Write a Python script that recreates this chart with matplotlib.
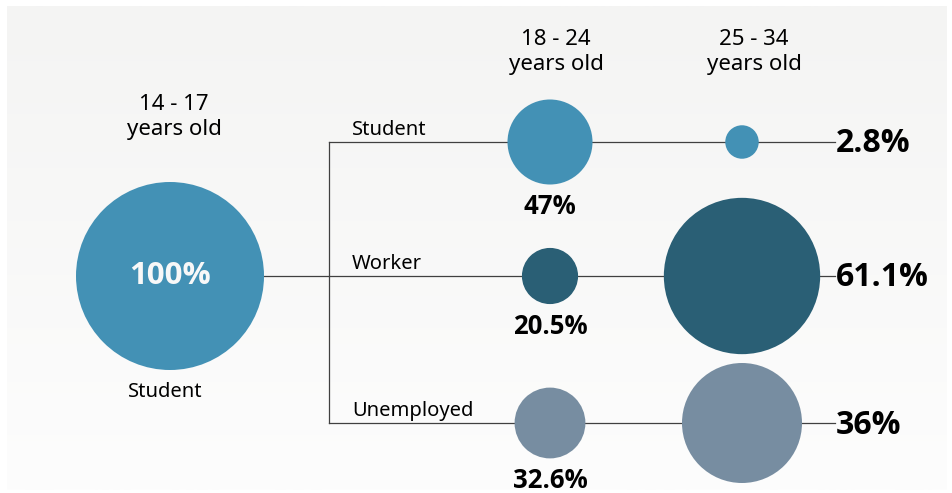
import numpy as np
import matplotlib.pyplot as plt
from matplotlib.patches import Circle
from matplotlib.colors import LinearSegmentedColormap

plt.rcParams['font.family'] = ['Noto Sans', 'DejaVu Sans']
BOLD = ['Open Sans', 'DejaVu Sans']

# Data
age_groups = ["14 - 17\nyears old", "18 - 24\nyears old", "25 - 34\nyears old"]
start_status = "Student"
start_share = 100
branches = ["Student", "Worker", "Unemployed"]
share_18_24 = [47, 20.5, 32.6]
share_25_34 = [2.8, 61.1, 36]
branch_colors = ["#4391b5", "#2a5f75", "#778da1"]

W, H = 953, 493
fig = plt.figure(figsize=(W / 100, H / 100), dpi=100)
ax = fig.add_axes([0, 0, 1, 1])
ax.set_xlim(0, W)
ax.set_ylim(H, 0)
ax.set_aspect('equal')
ax.axis('off')

# Panel background with a soft vertical gradient
grad = np.linspace(0, 1, 256).reshape(-1, 1)
cmap = LinearSegmentedColormap.from_list("bg", ["#f4f4f3", "#fdfdfd"])
ax.imshow(grad, extent=(7, 947, 490, 6), cmap=cmap, aspect='auto', zorder=0)

# Layout
x0, x1, x2 = 170, 550, 742
y0 = 276
row_y = [142, 276, 423]
x_split = 329
x_end = 835
scale = [9.4, 6.2, 10.0]  # radius per sqrt(percent) in each column
line_kw = dict(color="#404040", lw=0.9, zorder=1)

# Connectors
ax.plot([x0, x_split], [y0, y0], **line_kw)
ax.plot([x_split, x_split], [row_y[0], row_y[-1]], **line_kw)
for y in row_y:
    ax.plot([x_split, x_end], [y, y], **line_kw)

# Starting bubble
r0 = scale[0] * np.sqrt(start_share)
ax.add_patch(Circle((x0, y0), r0, color=branch_colors[0], zorder=2, lw=0))
ax.text(x0, y0, f"{start_share}%", color="#f8f8f8", fontsize=22.5, fontweight='bold',
        family=BOLD, ha='center', va='center', zorder=3)
ax.text(x0 - 5, y0 + 116, start_status, fontsize=14.5, ha='center', va='center')

# Column headers
hdr = dict(fontsize=16, ha='center', va='center', linespacing=1.3)
ax.text(x0 + 4, 117, age_groups[0], **hdr)
ax.text(x1 + 6, 52, age_groups[1], **hdr)
ax.text(x2 + 12, 52, age_groups[2], **hdr)

for y, name, v1, v2, c in zip(row_y, branches, share_18_24, share_25_34, branch_colors):
    ax.text(352, y - 12, name, fontsize=14.5, ha='left', va='center')
    r1 = scale[1] * np.sqrt(v1)
    ax.add_patch(Circle((x1, y), r1, color=c, zorder=2, lw=0))
    ax.text(x1, y + r1 + 22, f"{v1:g}%", fontsize=18.5, fontweight='bold', family=BOLD,
            ha='center', va='center')
    r2 = scale[2] * np.sqrt(v2)
    ax.add_patch(Circle((x2, y), r2, color=c, zorder=2, lw=0))
    ax.text(x_end + 1, y + 2, f"{v2:g}%", fontsize=23, fontweight='bold', family=BOLD,
            ha='left', va='center')

fig.savefig("out.png", dpi=100, facecolor="white")
